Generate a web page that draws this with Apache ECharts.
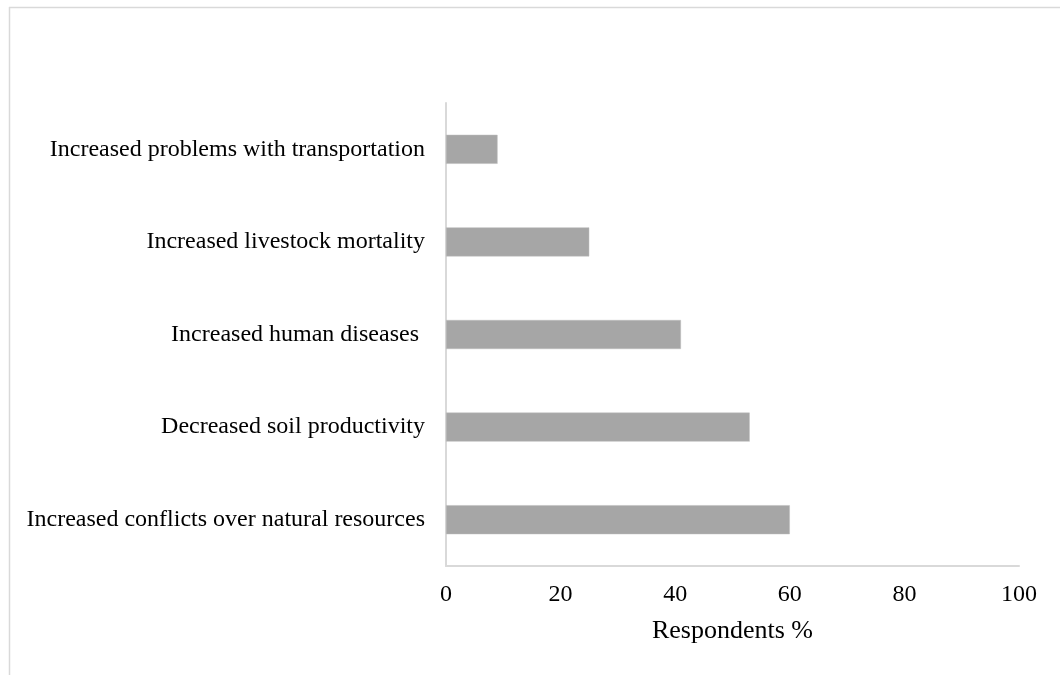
<!DOCTYPE html>
<html>
<head>
<meta charset="utf-8">
<style>
  html, body { margin: 0; padding: 0; background: #ffffff; }
  #chart { width: 1060px; height: 675px; }
</style>
<script src="https://cdn.jsdelivr.net/npm/echarts@6/dist/echarts.min.js"></script>
</head>
<body>
<div id="chart"></div>
<script>
// Perceived impacts, listed bottom to top
const categories = [
  'Increased conflicts over natural resources',
  'Decreased soil productivity',
  'Increased human diseases ',
  'Increased livestock mortality',
  'Increased problems with transportation'
];
const respondents = [60, 53, 41, 25, 9];
const xTicks = [0, 20, 40, 60, 80, 100];

const serif = '"Liberation Serif", "Times New Roman", serif';
const chart = echarts.init(document.getElementById('chart'), null, { renderer: 'canvas' });

chart.setOption({
  animation: false,
  backgroundColor: '#ffffff',
  graphic: [
    { type: 'line', shape: { x1: 9, y1: 7.5, x2: 1060, y2: 7.5 }, style: { stroke: '#d9d9d9', lineWidth: 1.5 } },
    { type: 'line', shape: { x1: 9.5, y1: 7, x2: 9.5, y2: 675 }, style: { stroke: '#d9d9d9', lineWidth: 1.5 } }
  ],
  grid: { left: 446, right: 41, top: 103, bottom: 109, containLabel: false },
  xAxis: {
    type: 'value',
    min: xTicks[0],
    max: xTicks[xTicks.length - 1],
    interval: xTicks[1] - xTicks[0],
    name: 'Respondents %',
    nameLocation: 'middle',
    nameGap: 52,
    nameTextStyle: { fontFamily: serif, fontSize: 26, color: '#000000' },
    axisLine: { show: true, lineStyle: { color: '#d9d9d9', width: 2 } },
    axisTick: { show: false },
    splitLine: { show: false },
    axisLabel: { fontFamily: serif, fontSize: 24, color: '#000000', margin: 17 }
  },
  yAxis: {
    type: 'category',
    data: categories,
    axisLine: { show: true, lineStyle: { color: '#d9d9d9', width: 2 } },
    axisTick: { show: false },
    splitLine: { show: false },
    axisLabel: { fontFamily: serif, fontSize: 24, color: '#000000', margin: 21 }
  },
  series: [{
    type: 'bar',
    data: respondents,
    barWidth: 29,
    itemStyle: { color: '#a6a6a6', borderColor: '#bdbdbd', borderWidth: 0.5 }
  }]
});
</script>
</body>
</html>
